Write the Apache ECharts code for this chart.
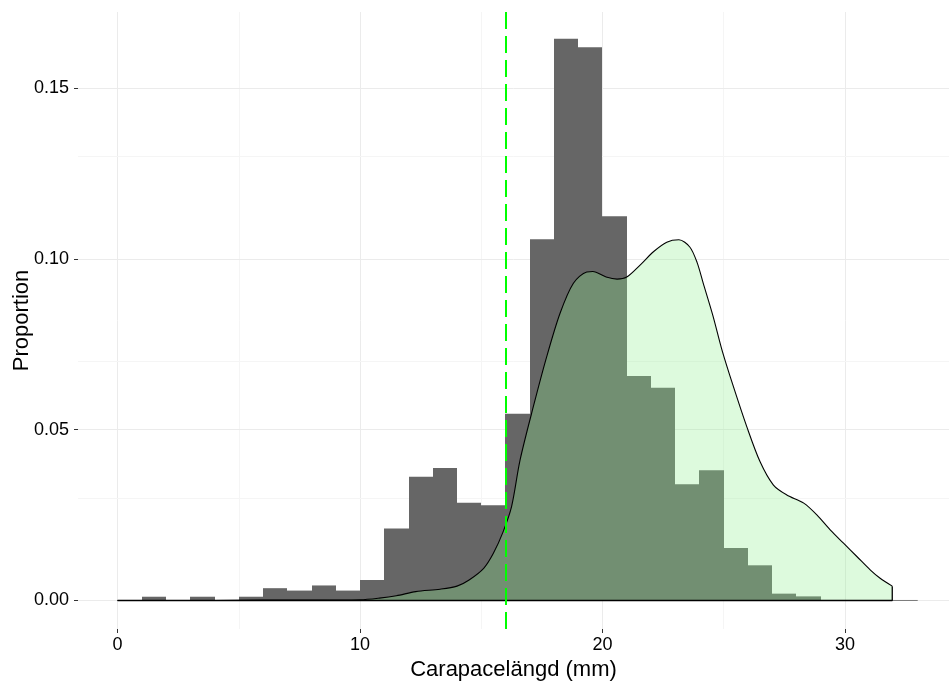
<!DOCTYPE html>
<html><head><meta charset="utf-8">
<script src="https://cdn.jsdelivr.net/npm/echarts@6/dist/echarts.min.js"></script>
<style>html,body{margin:0;padding:0;background:#fff}#c{width:949px;height:681px}</style>
</head><body><div id="c"></div><script>
// Histogram bins (start of each bin, width 1) and proportions
const binStarts = [1,2,3,4,5,6,7,8,9,10,11,12,13,14,15,16,17,18,19,20,21,22,23,24,25,26,27,28];
const binHeights = [0.0011,0,0.0011,0,0.0011,0.0036,0.0029,0.0044,0.0029,0.0060,0.0211,0.0362,0.0388,0.0286,0.0279,0.0547,0.1058,0.1645,0.1620,0.1125,0.0657,0.0623,0.0340,0.0381,0.0154,0.0103,0.0020,0.0012];
const binWidth = 1;
// Density curve
const densityX = [0,2,4,6,8,10,10.8,11.5,12.3,13.3,14.0,14.5,15.1,15.5,15.9,16.25,16.6,17.15,17.7,18.25,18.8,19.35,19.6,20.15,20.6,21.0,21.55,22.1,22.65,23.15,23.6,23.9,24.15,24.55,24.95,25.4,25.95,26.5,27.05,27.6,28.3,28.85,29.4,29.95,30.5,31.05,31.45,31.95];
const densityY = [0,0,0,0.0001,0.0001,0.0002,0.0007,0.0014,0.0026,0.0033,0.0042,0.0060,0.0094,0.0138,0.0201,0.0275,0.0411,0.0568,0.0714,0.0841,0.0929,0.0962,0.0963,0.0947,0.0941,0.0947,0.0982,0.1021,0.1049,0.1056,0.1035,0.0990,0.0930,0.0835,0.0728,0.0626,0.0509,0.0406,0.0338,0.0309,0.0285,0.0250,0.0206,0.0167,0.0128,0.0089,0.0065,0.0042];
const cutoffX = 16;
const baselineRange = [0, 33];
const xTicks = [0,10,20,30];
const xMinorTicks = [5,15,25];
const yTicks = [0,0.05,0.10,0.15];
const yMinorTicks = [0.025,0.075,0.125];
const xLimits = [-1.63, 34.29];
const yLimits = [-0.00835, 0.1723];

const FONT = '"Liberation Sans", Arial, Helvetica, sans-serif';
const chart = echarts.init(document.getElementById('c'), null, {renderer:'canvas'});

const lastX = densityX[densityX.length-1];
const lastY = densityY[densityY.length-1];

const gridLines = [];
xTicks.forEach(v => gridLines.push({xAxis:v, lineStyle:{color:'#ebebeb', width:1, type:'solid'}}));
xMinorTicks.forEach(v => gridLines.push({xAxis:v, lineStyle:{color:'#f5f5f5', width:1, type:'solid'}}));
yTicks.forEach(v => gridLines.push({yAxis:v, lineStyle:{color:'#ebebeb', width:1, type:'solid'}}));
yMinorTicks.forEach(v => gridLines.push({yAxis:v, lineStyle:{color:'#f5f5f5', width:1, type:'solid'}}));

chart.setOption({
  animation:false,
  backgroundColor:'#ffffff',
  grid:{left:78, right:0, top:12, bottom:52, containLabel:false, outerBoundsMode:'none'},
  xAxis:{
    type:'value', min:xLimits[0], max:xLimits[1],
    axisLine:{show:false, onZero:false},
    axisTick:{show:true, customValues:xTicks, length:4, lineStyle:{color:'#333', width:1}},
    axisLabel:{customValues:xTicks, fontSize:18, color:'#000', margin:7, fontFamily:FONT},
    splitLine:{show:false},
    name:'Carapacelängd (mm)', nameLocation:'middle', nameGap:27,
    nameTextStyle:{fontSize:22, color:'#000', fontFamily:FONT}
  },
  yAxis:{
    type:'value', min:yLimits[0], max:yLimits[1],
    axisLine:{show:false, onZero:false},
    axisTick:{show:true, customValues:yTicks, length:4, lineStyle:{color:'#333', width:1}},
    axisLabel:{customValues:yTicks, fontSize:18, color:'#000', margin:9, fontFamily:FONT,
      formatter:v=>v.toFixed(2)},
    splitLine:{show:false},
    name:'Proportion', nameLocation:'middle', nameGap:45, nameRotate:90, nameMoveOverlap:false,
    nameTextStyle:{fontSize:22, color:'#000', fontFamily:FONT}
  },
  series:[
    {
      type:'line', data:[], z:1, silent:true,
      markLine:{silent:true, symbol:['none','none'], label:{show:false}, z:1, animation:false, data:gridLines}
    },
    {
      type:'custom', z:2, silent:true,
      data:binStarts.map((s,i)=>[s, s+binWidth, binHeights[i]]),
      encode:{x:[0,1], y:2},
      renderItem:(params, api)=>{
        const p0 = api.coord([api.value(0), api.value(2)]);
        const p1 = api.coord([api.value(1), 0]);
        const x0 = Math.round(p0[0]), x1 = Math.round(p1[0]);
        return {type:'rect', shape:{x:x0, y:p0[1], width:x1-x0, height:p1[1]-p0[1]}, style:{fill:'#666666'}};
      }
    },
    {
      type:'line', z:3, silent:true, symbol:'none',
      data:[[baselineRange[0],0],[baselineRange[1],0]],
      lineStyle:{color:'#7a7a7a', width:1}
    },
    {
      type:'line', z:4, silent:true, symbol:'none', smooth:0.3,
      data:densityX.map((x,i)=>[x, densityY[i]]),
      lineStyle:{color:'#000', width:1.1},
      areaStyle:{color:'#90EE90', opacity:0.3, origin:0}
    },
    {
      type:'line', z:5, silent:true, symbol:'none',
      data:[[densityX[0],0],[lastX,0],[lastX,lastY]],
      lineStyle:{color:'#000', width:1.3}
    },
    {
      type:'line', data:[], z:6, silent:true,
      markLine:{silent:true, symbol:['none','none'], label:{show:false}, z:6, animation:false,
        data:[{xAxis:cutoffX}],
        lineStyle:{color:'#00ff00', width:2, type:[17,7]}}
    }
  ]
});
</script></body></html>
